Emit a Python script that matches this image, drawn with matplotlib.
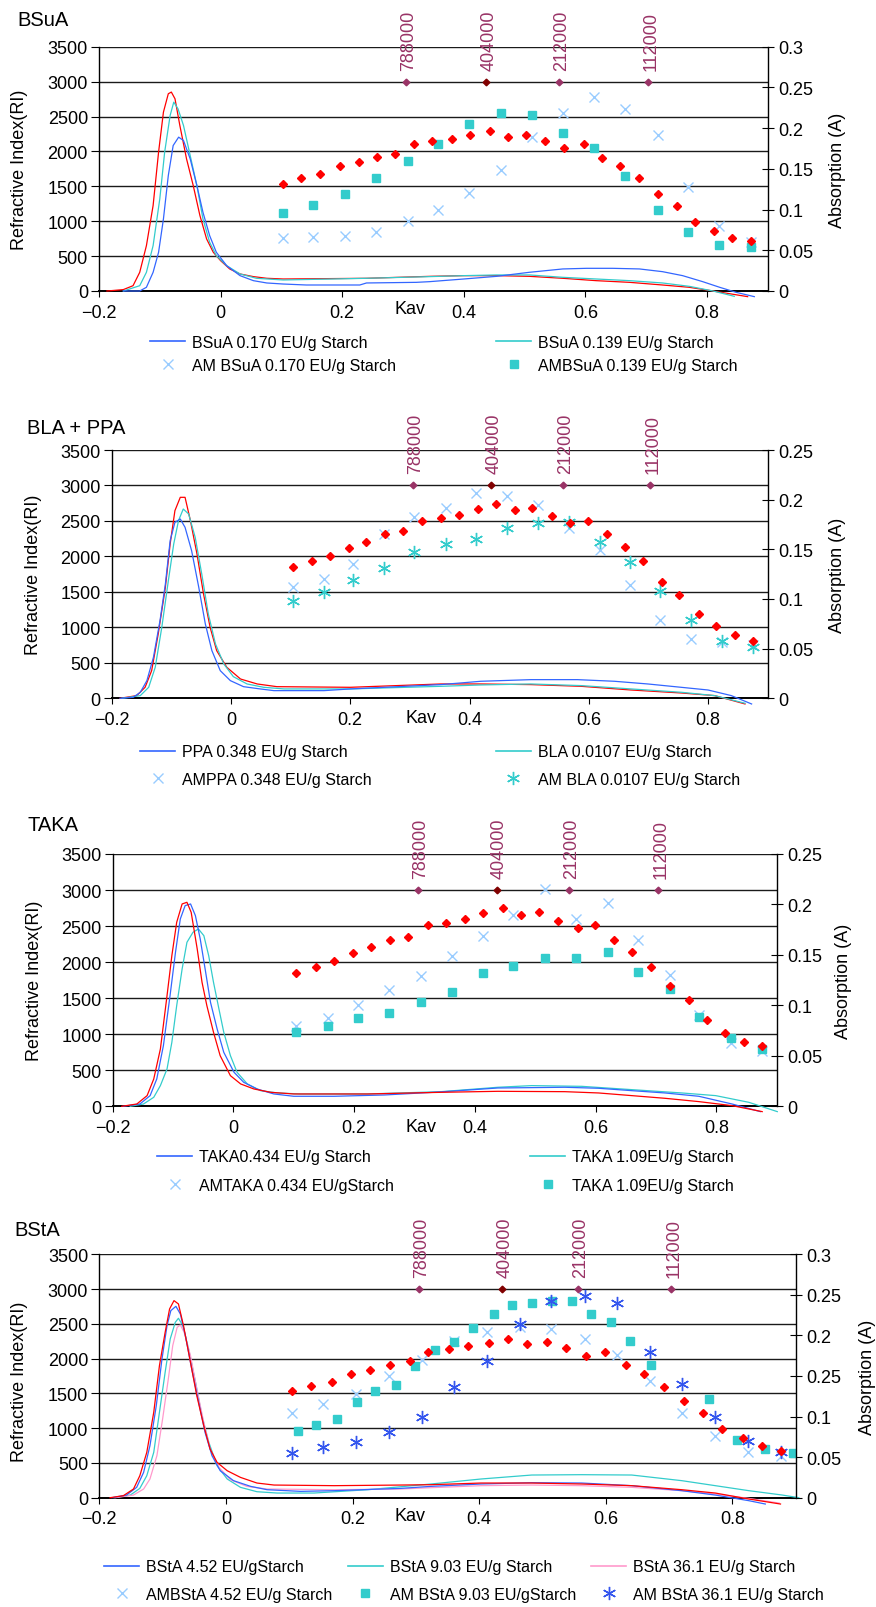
import matplotlib
matplotlib.use("Agg")
import matplotlib.pyplot as plt
from matplotlib.lines import Line2D

plt.rcParams["font.family"] = ["Liberation Sans", "DejaVu Sans"]

# ---------------- data ----------------
MW_KAV = [0.305, 0.436, 0.556, 0.703]
MW_RI = [3000, 3000, 3000, 3000]
MW_LABELS = ["788000", "404000", "212000", "112000"]
MW_COLORS = ["#993366", "#800000", "#993366", "#993366"]

# BSuA
BSUA_KAV_RED = [-0.187, -0.16, -0.144, -0.133, -0.122, -0.111, -0.102, -0.094, -0.086, -0.081, -0.075, -0.067,
                -0.056, -0.045, -0.034, -0.023, -0.012, 0.0, 0.015, 0.032, 0.054, 0.076, 0.103, 0.24, 0.344,
                0.4, 0.454, 0.508, 0.563, 0.618, 0.673, 0.727, 0.771, 0.81, 0.867]
BSUA_RI_RED = [0, 20, 76, 268, 650, 1224, 1989, 2563, 2826, 2850, 2754, 2371, 1893, 1511, 1081, 746, 555, 435,
               316, 244, 206, 182, 172, 182, 210, 220, 220, 210, 182, 148, 124, 86, 53, 0, -81]
BSUA_KAV_170 = [-0.16, -0.133, -0.122, -0.111, -0.102, -0.094, -0.086, -0.078, -0.069, -0.061, -0.05, -0.039,
                -0.029, -0.018, -0.007, 0.01, 0.032, 0.054, 0.076, 0.103, 0.141, 0.229, 0.24, 0.322, 0.344, 0.4,
                0.454, 0.508, 0.563, 0.602, 0.645, 0.689, 0.727, 0.76, 0.793, 0.821, 0.848, 0.878]
BSUA_RI_170 = [0, 0, 53, 268, 555, 1033, 1654, 2084, 2204, 2156, 1893, 1511, 1128, 794, 555, 363, 220, 148, 115,
               100, 86, 86, 115, 124, 134, 172, 210, 268, 316, 325, 325, 316, 277, 220, 134, 53, -19, -81]
BSUA_KAV_139 = [-0.16, -0.133, -0.122, -0.111, -0.1, -0.092, -0.083, -0.077, -0.07, -0.061, -0.05, -0.039, -0.029,
                -0.018, -0.007, 0.01, 0.032, 0.059, 0.103, 0.24, 0.344, 0.4, 0.454, 0.508, 0.563, 0.618, 0.673,
                0.727, 0.771, 0.81, 0.845]
BSUA_RI_139 = [0, 76, 268, 650, 1320, 1989, 2515, 2706, 2610, 2371, 1941, 1511, 1033, 698, 507, 363, 244, 182,
               158, 182, 206, 220, 230, 230, 196, 172, 148, 115, 67, 0, -76]
BSUA_PT_KAV_RED = [0.102, 0.133, 0.164, 0.196, 0.227, 0.258, 0.287, 0.318, 0.348, 0.380, 0.411, 0.443, 0.472,
                   0.503, 0.533, 0.565, 0.597, 0.627, 0.657, 0.688, 0.719, 0.750, 0.781, 0.812, 0.841, 0.873]
BSUA_PT_RED = [0.131, 0.139, 0.144, 0.153, 0.158, 0.164, 0.168, 0.180, 0.184, 0.187, 0.191, 0.196, 0.189, 0.192,
               0.184, 0.176, 0.180, 0.163, 0.153, 0.139, 0.119, 0.104, 0.085, 0.074, 0.065, 0.061]
BSUA_PT_KAV = [0.102, 0.152, 0.205, 0.255, 0.308, 0.358, 0.409, 0.462, 0.512, 0.563, 0.615, 0.666, 0.719, 0.769,
               0.820, 0.873]
BSUA_AM_170 = [0.065, 0.066, 0.068, 0.073, 0.086, 0.100, 0.120, 0.149, 0.189, 0.218, 0.238, 0.223, 0.191, 0.128,
               0.080, 0.060]
BSUA_AM_139 = [0.096, 0.105, 0.119, 0.139, 0.160, 0.180, 0.205, 0.218, 0.216, 0.194, 0.175, 0.141, 0.099, 0.072,
               0.056, 0.054]

# BLA + PPA
BLA_KAV_RED = [-0.186, -0.158, -0.144, -0.133, -0.122, -0.110, -0.102, -0.094, -0.085, -0.077, -0.068, -0.057,
               -0.046, -0.035, -0.024, -0.007, 0.016, 0.044, 0.077, 0.2, 0.352, 0.419, 0.503, 0.587, 0.671, 0.755,
               0.811, 0.862]
BLA_RI_RED = [0, 38, 155, 390, 907, 1564, 2175, 2645, 2833, 2833, 2504, 2034, 1470, 1001, 672, 437, 272, 202, 164,
              155, 202, 202, 193, 169, 117, 75, 38, -80]
PPA_KAV = [-0.186, -0.164, -0.152, -0.141, -0.13, -0.119, -0.110, -0.102, -0.094, -0.085, -0.077, -0.066, -0.054,
           -0.043, -0.032, -0.018, -0.001, 0.021, 0.049, 0.072, 0.156, 0.2, 0.352, 0.419, 0.503, 0.581, 0.643,
           0.699, 0.755, 0.8, 0.839, 0.873]
PPA_RI = [0, 14, 85, 249, 578, 1095, 1611, 2222, 2480, 2527, 2410, 2081, 1564, 1048, 672, 390, 249, 164, 132, 108,
          108, 132, 193, 240, 263, 263, 240, 202, 155, 117, 38, -80]
BLA_KAV = [-0.183, -0.152, -0.138, -0.127, -0.116, -0.105, -0.096, -0.088, -0.08, -0.071, -0.06, -0.049, -0.038,
           -0.026, -0.012, 0.004, 0.027, 0.055, 0.089, 0.2, 0.352, 0.419, 0.503, 0.587, 0.671, 0.755, 0.811, 0.862]
BLA_RI = [0, 38, 155, 437, 1001, 1658, 2175, 2504, 2668, 2598, 2269, 1752, 1189, 766, 484, 305, 202, 155, 132,
          132, 169, 188, 202, 179, 132, 85, 38, -70]
BLA_PT_KAV_RED = [0.104, 0.136, 0.166, 0.198, 0.227, 0.259, 0.289, 0.321, 0.352, 0.383, 0.415, 0.444, 0.476,
                  0.505, 0.538, 0.569, 0.598, 0.631, 0.660, 0.691, 0.722, 0.752, 0.784, 0.814, 0.846, 0.876]
BLA_PT_RED = [0.132, 0.138, 0.143, 0.151, 0.157, 0.165, 0.168, 0.179, 0.182, 0.185, 0.191, 0.196, 0.190, 0.192,
              0.184, 0.177, 0.179, 0.165, 0.152, 0.138, 0.117, 0.104, 0.085, 0.073, 0.064, 0.058]
BLA_PT_KAV = [0.104, 0.156, 0.205, 0.257, 0.307, 0.360, 0.411, 0.463, 0.514, 0.567, 0.618, 0.669, 0.720, 0.772,
              0.824, 0.876]
AM_PPA = [0.112, 0.120, 0.135, 0.165, 0.183, 0.192, 0.207, 0.204, 0.195, 0.171, 0.149, 0.114, 0.079, 0.060,
          0.057, 0.054]
AM_BLA = [0.098, 0.107, 0.119, 0.131, 0.147, 0.155, 0.160, 0.171, 0.176, 0.178, 0.157, 0.137, 0.108, 0.079,
          0.058, 0.052]

# TAKA
TAKA_KAV_RED = [-0.185, -0.16, -0.143, -0.132, -0.121, -0.110, -0.102, -0.094, -0.085, -0.077, -0.070, -0.060,
                -0.052, -0.044, -0.033, -0.022, -0.005, 0.012, 0.034, 0.062, 0.1, 0.222, 0.344, 0.438, 0.549,
                0.605, 0.66, 0.715, 0.771, 0.826, 0.876]
TAKA_RI_RED = [0, 32, 148, 379, 795, 1535, 2090, 2552, 2807, 2830, 2691, 2183, 1720, 1396, 1027, 703, 425, 310,
               240, 194, 171, 171, 194, 208, 203, 185, 148, 111, 65, 9, -74]
TAKA_KAV_434 = [-0.183, -0.155, -0.138, -0.127, -0.116, -0.105, -0.096, -0.088, -0.08, -0.071, -0.063, -0.055,
                -0.046, -0.038, -0.027, -0.016, 0.001, 0.017, 0.039, 0.067, 0.1, 0.167, 0.25, 0.344, 0.438, 0.549,
                0.605, 0.66, 0.715, 0.771, 0.826, 0.873]
TAKA_RI_434 = [0, 32, 148, 379, 842, 1535, 2136, 2599, 2784, 2807, 2645, 2321, 1859, 1443, 1073, 749, 472, 333,
               240, 171, 139, 139, 157, 200, 254, 264, 250, 217, 185, 139, 32, -74]
TAKA_KAV_109 = [-0.171, -0.149, -0.132, -0.121, -0.110, -0.102, -0.094, -0.085, -0.077, -0.067, -0.058, -0.049,
                -0.041, -0.033, -0.024, -0.016, -0.005, 0.006, 0.023, 0.045, 0.073, 0.111, 0.222, 0.344, 0.438,
                0.494, 0.577, 0.66, 0.743, 0.799, 0.854, 0.901]
TAKA_RI_109 = [0, 32, 125, 287, 518, 888, 1396, 1905, 2275, 2414, 2460, 2367, 2090, 1720, 1350, 1027, 703, 472,
               310, 217, 185, 171, 171, 203, 264, 287, 277, 231, 185, 148, 55, -74]
TAKA_PT_KAV_RED = [0.104, 0.136, 0.166, 0.198, 0.228, 0.260, 0.290, 0.322, 0.352, 0.383, 0.413, 0.446, 0.476,
                   0.506, 0.537, 0.570, 0.599, 0.631, 0.661, 0.692, 0.723, 0.755, 0.785, 0.815, 0.846, 0.876]
TAKA_PT_RED = [0.132, 0.138, 0.144, 0.152, 0.158, 0.165, 0.168, 0.180, 0.182, 0.186, 0.192, 0.196, 0.190, 0.193,
               0.184, 0.177, 0.180, 0.165, 0.153, 0.138, 0.119, 0.105, 0.086, 0.073, 0.064, 0.060]
TAKA_PT_KAV = [0.104, 0.156, 0.206, 0.257, 0.310, 0.362, 0.413, 0.463, 0.516, 0.567, 0.620, 0.671, 0.723, 0.772,
               0.825, 0.876]
AM_TAKA_434 = [0.080, 0.087, 0.100, 0.115, 0.129, 0.149, 0.169, 0.190, 0.215, 0.186, 0.201, 0.165, 0.130, 0.090,
               0.063, 0.055]
AM_TAKA_109 = [0.074, 0.080, 0.087, 0.092, 0.103, 0.113, 0.132, 0.139, 0.147, 0.147, 0.153, 0.133, 0.116, 0.088,
               0.068, 0.057]

# BStA
BSTA_KAV_RED = [-0.183, -0.162, -0.146, -0.136, -0.125, -0.114, -0.105, -0.096, -0.089, -0.082, -0.075, -0.067,
                -0.056, -0.046, -0.035, -0.025, -0.014, 0.002, 0.023, 0.049, 0.076, 0.171, 0.276, 0.324, 0.403,
                0.483, 0.562, 0.641, 0.72, 0.773, 0.826, 0.876]
BSTA_RI_RED = [0, 29, 125, 316, 652, 1228, 1899, 2378, 2714, 2834, 2786, 2474, 1947, 1467, 1036, 700, 508, 388,
               292, 211, 182, 173, 182, 187, 211, 211, 197, 173, 115, 67, -19, -91]
BSTA_KAV_452 = [-0.18, -0.157, -0.141, -0.13, -0.12, -0.110, -0.101, -0.093, -0.087, -0.079, -0.072, -0.064,
                -0.054, -0.043, -0.033, -0.022, -0.009, 0.012, 0.039, 0.065, 0.118, 0.171, 0.276, 0.324, 0.403,
                0.483, 0.562, 0.641, 0.72, 0.773, 0.826, 0.852]
BSTA_RI_452 = [0, 38, 149, 364, 748, 1323, 1995, 2474, 2690, 2752, 2642, 2330, 1851, 1371, 940, 604, 388, 245,
               163, 115, 91, 101, 134, 163, 197, 216, 211, 173, 101, 38, -43, -91]
BSTA_KAV_903 = [-0.177, -0.151, -0.136, -0.125, -0.114, -0.105, -0.096, -0.088, -0.080, -0.075, -0.068, -0.059,
                -0.048, -0.038, -0.027, -0.014, 0.002, 0.023, 0.049, 0.081, 0.139, 0.224, 0.324, 0.403, 0.483,
                0.562, 0.641, 0.72, 0.773, 0.826, 0.879, 0.905]
BSTA_RI_903 = [0, 38, 134, 316, 652, 1228, 1803, 2282, 2522, 2580, 2474, 2139, 1659, 1180, 796, 460, 269, 149,
               86, 67, 67, 115, 197, 269, 326, 331, 326, 245, 173, 101, 38, 0]
BSTA_KAV_361 = [-0.175, -0.146, -0.13, -0.12, -0.109, -0.1, -0.091, -0.084, -0.077, -0.072, -0.066, -0.056,
                -0.046, -0.035, -0.025, -0.011, 0.007, 0.033, 0.065, 0.171, 0.276, 0.324, 0.403, 0.483, 0.562,
                0.641, 0.72, 0.773, 0.826, 0.874]
BSTA_RI_361 = [0, 38, 125, 269, 604, 1132, 1707, 2187, 2450, 2484, 2378, 2043, 1563, 1084, 700, 436, 259, 163,
               125, 115, 125, 144, 173, 182, 173, 149, 101, 53, -10, -77]
BSTA_PT_KAV_RED = [0.104, 0.135, 0.167, 0.197, 0.227, 0.259, 0.290, 0.319, 0.352, 0.383, 0.415, 0.445, 0.476,
                   0.507, 0.537, 0.568, 0.599, 0.632, 0.660, 0.692, 0.724, 0.753, 0.784, 0.817, 0.847, 0.876]
BSTA_PT_RED = [0.132, 0.138, 0.143, 0.153, 0.158, 0.164, 0.168, 0.179, 0.183, 0.187, 0.191, 0.196, 0.189, 0.192,
               0.185, 0.175, 0.179, 0.164, 0.153, 0.137, 0.119, 0.104, 0.085, 0.074, 0.064, 0.058]
BSTA_PT_KAV = [0.104, 0.154, 0.205, 0.258, 0.309, 0.360, 0.413, 0.464, 0.514, 0.567, 0.618, 0.670, 0.720, 0.772,
               0.825, 0.876]
AM_BSTA_452 = [0.105, 0.115, 0.128, 0.150, 0.170, 0.193, 0.204, 0.210, 0.208, 0.196, 0.176, 0.144, 0.105, 0.076,
               0.056, 0.052]
AM_BSTA_361 = [0.055, 0.062, 0.069, 0.081, 0.099, 0.136, 0.169, 0.214, 0.243, 0.249, 0.240, 0.179, 0.140, 0.100,
               0.070, 0.056]
BSTA_PT_KAV_903 = [0.114, 0.143, 0.175, 0.207, 0.236, 0.268, 0.299, 0.330, 0.360, 0.391, 0.423, 0.452, 0.484,
                   0.515, 0.547, 0.577, 0.608, 0.639, 0.671, 0.763, 0.808, 0.851, 0.895]
AM_BSTA_903 = [0.082, 0.089, 0.097, 0.118, 0.131, 0.139, 0.162, 0.182, 0.192, 0.209, 0.226, 0.237, 0.240, 0.243,
               0.243, 0.227, 0.217, 0.193, 0.163, 0.122, 0.071, 0.060, 0.055]

RI_TICKS = [0, 500, 1000, 1500, 2000, 2500, 3000, 3500]
KAV_TICKS = [-0.2, 0, 0.2, 0.4, 0.6, 0.8]
ABS_TICKS_30 = [0, 0.05, 0.1, 0.15, 0.2, 0.25, 0.3]
ABS_TICKS_25 = [0, 0.05, 0.1, 0.15, 0.2, 0.25]
BSTA_ABS_LABELS = ["0", "0.05", "0.1", "0.25", "0.2", "0.25", "0.3"]

# ---------------- style ----------------
RED = "#FF0000"
BLUE = "#3366FF"
CYAN = "#33CCCC"
LIGHTBLUE = "#99CCFF"
PINK = "#FF99CC"
ASTBLUE = "#3355EE"
W, H = 876, 1608

fig = plt.figure(figsize=(W / 100, H / 100), dpi=100)


def fx(px):
    return px / W


def fy(py):
    return 1 - py / H


def make_panel(box, amax, aticks, alabels=None):
    x0, y0, x1, y1 = box
    ax = fig.add_axes([fx(x0), fy(y1), fx(x1 - x0), (y1 - y0) / H])
    ax.set_xlim(-0.2, 0.9)
    ax.set_ylim(0, 3500)
    ax.set_yticks(RI_TICKS)
    ax.set_xticks(KAV_TICKS)
    ax.set_xticklabels(["\u22120.2", "0", "0.2", "0.4", "0.6", "0.8"])
    ax.grid(axis="y", color="#1a1a1a", linewidth=1.0)
    ax.set_axisbelow(True)
    ax.spines["top"].set_visible(False)
    ax.spines["right"].set_visible(False)
    ax.spines["bottom"].set_linewidth(1.4)
    ax.spines["left"].set_linewidth(1.0)
    ax.tick_params(axis="y", direction="out", length=6, pad=2, labelsize=13)
    ax.tick_params(axis="x", direction="out", length=4, pad=5, labelsize=13)

    ax2 = ax.twinx()
    ax2.set_ylim(0, amax)
    ax2.set_yticks(aticks)
    if alabels:
        ax2.set_yticklabels(alabels)
    else:
        ax2.set_yticklabels([f"{t:g}" for t in aticks])
    ax2.spines["top"].set_visible(False)
    ax2.spines["left"].set_visible(False)
    ax2.spines["bottom"].set_visible(False)
    ax2.spines["right"].set_linewidth(1.0)
    ax2.tick_params(axis="y", direction="inout", length=9, pad=3, labelsize=13)

    for k, r, lab, c in zip(MW_KAV, MW_RI, MW_LABELS, MW_COLORS):
        ax.plot([k], [r], marker="D", ms=3.4, color=c, linestyle="none", zorder=4)
        ax.annotate(lab, (k, r), xytext=(3, 12), textcoords="offset pixels", rotation=90,
                    ha="center", va="bottom", color="#993366", fontsize=13, annotation_clip=False)
    return ax, ax2


def line(ax, x, y, color):
    ax.plot(x, y, color=color, linewidth=0.9, clip_on=False, zorder=3)


def red_points(ax2, x, y):
    ax2.plot(x, y, linestyle="none", marker="D", ms=4.4, color=RED, zorder=3)


def side_texts(title, title_xy, left_xy, right_xy, kav_xy):
    fig.text(fx(title_xy[0]), fy(title_xy[1]), title, fontsize=14.5, ha="left", va="center")
    fig.text(fx(left_xy[0]), fy(left_xy[1]), "Refractive Index(RI)", fontsize=13, rotation=90,
             ha="center", va="center")
    fig.text(fx(right_xy[0]), fy(right_xy[1]), "Absorption (A)", fontsize=13, rotation=90,
             ha="center", va="center")
    fig.text(fx(kav_xy[0]), fy(kav_xy[1]), "Kav", fontsize=13, ha="center", va="center")


def legend(handles, labels, anchor, ncol, colspace_px, rowspace):
    fig.legend(handles, labels, loc="center left", bbox_to_anchor=(fx(anchor[0]), fy(anchor[1])),
               ncol=ncol, frameon=False, fontsize=11.5, handlelength=2.2, handletextpad=0.45,
               columnspacing=colspace_px / 16.0, labelspacing=rowspace, borderpad=0, borderaxespad=0)


def h_line(c):
    return Line2D([], [], color=c, linewidth=1.2)


def h_mark(c, m, ms, mew=1.0):
    return Line2D([], [], color=c, marker=m, ms=ms, mew=mew, linestyle="none")


X_MS, SQ_MS, AST_MS = 7.5, 6, 9.5
AST = (6, 2, 0)

# ---- panel 1: BSuA ----
ax, ax2 = make_panel((99, 47.7, 767.7, 292), 0.3, ABS_TICKS_30)
line(ax, BSUA_KAV_RED, BSUA_RI_RED, RED)
line(ax, BSUA_KAV_139, BSUA_RI_139, CYAN)
line(ax, BSUA_KAV_170, BSUA_RI_170, BLUE)
red_points(ax2, BSUA_PT_KAV_RED, BSUA_PT_RED)
ax2.plot(BSUA_PT_KAV, BSUA_AM_170, linestyle="none", marker="x", ms=X_MS, mew=1.0, color=LIGHTBLUE)
ax2.plot(BSUA_PT_KAV, BSUA_AM_139, linestyle="none", marker="s", ms=SQ_MS, color=CYAN)
side_texts("BSuA", (17, 20), (20, 170), (837, 170), (410, 310))
legend([h_line(BLUE), h_mark(LIGHTBLUE, "x", X_MS), h_line(CYAN), h_mark(CYAN, "s", SQ_MS)],
       ["BSuA 0.170 EU/g Starch", "AM BSuA 0.170 EU/g Starch", "BSuA 0.139 EU/g Starch",
        "AMBSuA 0.139 EU/g Starch"], (150, 355), 2, 100, 0.5)

# ---- panel 2: BLA + PPA ----
ax, ax2 = make_panel((111.7, 451, 767.7, 699.3), 0.25, ABS_TICKS_25)
line(ax, BLA_KAV_RED, BLA_RI_RED, RED)
line(ax, BLA_KAV, BLA_RI, CYAN)
line(ax, PPA_KAV, PPA_RI, BLUE)
red_points(ax2, BLA_PT_KAV_RED, BLA_PT_RED)
ax2.plot(BLA_PT_KAV, AM_PPA, linestyle="none", marker="x", ms=X_MS, mew=1.0, color=LIGHTBLUE)
ax2.plot(BLA_PT_KAV, AM_BLA, linestyle="none", marker=AST, ms=AST_MS, mew=1.0, color=CYAN)
side_texts("BLA + PPA", (27, 428), (33.5, 575), (838, 575), (421, 719))
legend([h_line(BLUE), h_mark(LIGHTBLUE, "x", X_MS), h_line(CYAN), h_mark(CYAN, AST, AST_MS)],
       ["PPA 0.348 EU/g Starch", "AMPPA 0.348 EU/g Starch", "BLA 0.0107 EU/g Starch",
        "AM BLA 0.0107 EU/g Starch"], (140, 766.5), 2, 124, 0.8)

# ---- panel 3: TAKA ----
ax, ax2 = make_panel((112.7, 855, 776.7, 1107.3), 0.25, ABS_TICKS_25)
line(ax, TAKA_KAV_109, TAKA_RI_109, CYAN)
line(ax, TAKA_KAV_434, TAKA_RI_434, BLUE)
line(ax, TAKA_KAV_RED, TAKA_RI_RED, RED)
red_points(ax2, TAKA_PT_KAV_RED, TAKA_PT_RED)
ax2.plot(TAKA_PT_KAV, AM_TAKA_434, linestyle="none", marker="x", ms=X_MS, mew=1.0, color=LIGHTBLUE)
ax2.plot(TAKA_PT_KAV, AM_TAKA_109, linestyle="none", marker="s", ms=SQ_MS, color=CYAN)
side_texts("TAKA", (28, 826), (35, 981), (843, 981), (421, 1127.7))
legend([h_line(BLUE), h_mark(LIGHTBLUE, "x", X_MS), h_line(CYAN), h_mark(CYAN, "s", SQ_MS)],
       ["TAKA0.434 EU/g Starch", "AMTAKA 0.434 EU/gStarch", "TAKA 1.09EU/g Starch",
        "TAKA 1.09EU/g Starch"], (157, 1172), 2, 136, 0.85)

# ---- panel 4: BStA ----
ax, ax2 = make_panel((99.3, 1255.3, 795.7, 1498.7), 0.3, ABS_TICKS_30, BSTA_ABS_LABELS)
line(ax, BSTA_KAV_903, BSTA_RI_903, CYAN)
line(ax, BSTA_KAV_361, BSTA_RI_361, PINK)
line(ax, BSTA_KAV_452, BSTA_RI_452, BLUE)
line(ax, BSTA_KAV_RED, BSTA_RI_RED, RED)
red_points(ax2, BSTA_PT_KAV_RED, BSTA_PT_RED)
ax2.plot(BSTA_PT_KAV, AM_BSTA_452, linestyle="none", marker="x", ms=X_MS, mew=1.0, color=LIGHTBLUE)
ax2.plot(BSTA_PT_KAV_903, AM_BSTA_903, linestyle="none", marker="s", ms=SQ_MS, color=CYAN)
ax2.plot(BSTA_PT_KAV, AM_BSTA_361, linestyle="none", marker=AST, ms=AST_MS, mew=1.0, color=ASTBLUE)
side_texts("BStA", (14, 1231), (19.5, 1382), (867, 1377), (410, 1517))
legend([h_line(BLUE), h_mark(LIGHTBLUE, "x", X_MS), h_line(CYAN), h_mark(CYAN, "s", SQ_MS),
        h_line(PINK), h_mark(ASTBLUE, AST, AST_MS)],
       ["BStA 4.52 EU/gStarch", "AMBStA 4.52 EU/g Starch", "BStA 9.03 EU/g Starch",
        "AM BStA 9.03 EU/gStarch", "BStA 36.1 EU/g Starch", "AM BStA 36.1 EU/g Starch"],
       (104, 1581.5), 3, 15, 0.8)

fig.savefig("out.png", dpi=100)
